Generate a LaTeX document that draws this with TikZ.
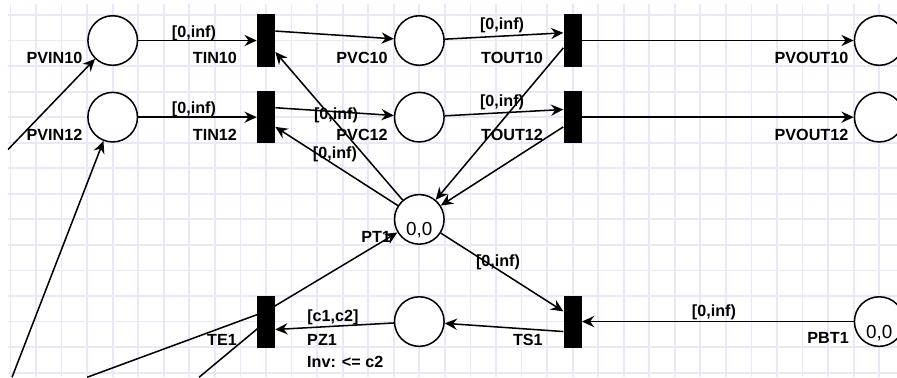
\documentclass[tikz,border=0pt]{standalone}
\usepackage{fontspec}
\setmainfont{Liberation Sans}
\usepackage{xcolor}
\usetikzlibrary{arrows.meta}
\definecolor{gridc}{HTML}{E8E8F8}
\tikzset{
  place/.style={draw,circle,line width=0.85pt,minimum size=0.97cm,inner sep=0pt,fill=white},
  trans/.style={fill=black,minimum width=3.5mm,minimum height=10.2mm,inner sep=0pt},
  lbl/.style={font=\bfseries\fontsize{9}{10}\selectfont,inner sep=0pt},
  tok/.style={font=\fontsize{10.5}{12}\selectfont,inner sep=0pt},
  flow/.style={line width=0.85pt,-{Stealth[length=2.4mm,width=2.2mm,inset=0.8mm]}},
  wire/.style={line width=0.85pt}
}

\begin{document}
\begin{tikzpicture}[x=0.5cm,y=-0.5cm]
\useasboundingbox (-0.411,-0.586) rectangle (34.697,14.18);
\begin{scope}
\clip (-0.1,-0.43) rectangle (34.697,14.18);
\foreach \i in {0,...,34} \draw[gridc,line width=1pt] (\i,-0.43) -- (\i,14.18);
\foreach \j in {0,...,14} \draw[gridc,line width=1pt] (-0.1,\j) -- (34.697,\j);

\node[place] (PVIN10) at (4,1) {}; \node[place] (PVIN12) at (4,4) {};
\node[trans] (TIN10) at (10,1) {}; \node[trans] (TIN12) at (10,4) {};
\node[place] (PVC10) at (16,1) {}; \node[place] (PVC12) at (16,4) {};
\node[trans] (TOUT10) at (22,1) {}; \node[trans] (TOUT12) at (22,4) {};
\node[place] (PVOUT10) at (34,1) {}; \node[place] (PVOUT12) at (34,4) {};
\node[place] (PT1) at (16,8) {};
\node[trans] (TE1) at (10,12) {}; \node[place] (PZ1) at (16,12) {};
\node[trans] (TS1) at (22,12) {}; \node[place] (PBT1) at (34,12) {};
\coordinate (inA) at (-0.1,5.27); \coordinate (inB) at (0.06,14.18);
\coordinate (outC) at (3.0,14.18); \coordinate (outE) at (7.38,14.18);

\draw[flow] (PVIN10) -- (TIN10.west);
\draw[flow] (PVIN12) -- (TIN12.west);
\draw[flow] ([yshift=1.85mm]TIN10.east) -- (PVC10);
\draw[flow] ([yshift=1.85mm]TIN12.east) -- (PVC12);
\draw[flow] (PVC10) -- ([yshift=1.5mm]TOUT10.west);
\draw[flow] (PVC12) -- ([yshift=1.5mm]TOUT12.west);
\draw[flow] (TOUT10.east) -- (PVOUT10);
\draw[flow] (TOUT12.east) -- (PVOUT12);
\draw[flow] ([yshift=-1.45mm]TOUT10.west) -- (PT1);
\draw[flow] ([yshift=-1.9mm]TOUT12.west) -- (PT1);
\draw[flow] (PT1) -- ([yshift=-2.25mm]TIN10.east);
\draw[flow] (PT1) -- ([yshift=-1.9mm]TIN12.east);
\draw[flow] (PT1) -- ([yshift=2mm]TS1.west);
\draw[flow] ([yshift=-1.95mm]TS1.west) -- (PZ1);
\draw[flow] (PZ1) -- ([yshift=-1.55mm]TE1.east);
\draw[flow] (PBT1) -- (TS1.east);
\draw[flow] ([yshift=2mm]TE1.center) -- (PT1);
\draw[wire] ([yshift=2mm]TE1.center) -- (outC);
\draw[wire] (TE1.center) -- (outE);
\draw[flow] (inA) -- (PVIN10);
\draw[flow] (inB) -- (PVIN12);

\node[lbl] (lPVIN10) at (1.72,1.68) {PVIN10}; \node[lbl] (lPVIN12) at (1.72,4.69) {PVIN12};
\node[lbl] (lTIN10) at (8.0,1.68) {TIN10}; \node[lbl] (lTIN12) at (8.0,4.69) {TIN12};
\node[lbl] (lPVC10) at (13.76,1.68) {PVC10}; \node[lbl] (lPVC12) at (13.76,4.69) {PVC12};
\node[lbl] (lTOUT10) at (19.63,1.68) {TOUT10}; \node[lbl] (lTOUT12) at (19.63,4.69) {TOUT12};
\node[lbl] (lPVOUT10) at (31.35,1.68) {PVOUT10}; \node[lbl] (lPVOUT12) at (31.35,4.69) {PVOUT12};
\node[lbl] (lPT1) at (14.31,8.67) {PT1};
\node[lbl,anchor=west] (lPZ1) at (11.6,12.70) {PZ1};
\node[lbl,anchor=west] (lInv) at (11.6,13.59) {Inv: <= c2};
\node[lbl] (lTS1) at (20.25,12.70) {TS1};
\node[lbl] (lTE1) at (8.28,12.70) {TE1};
\node[lbl] (lPBT1) at (32.0,12.66) {PBT1};
\node[tok] (tPT1) at (16,8.43) {0,0}; \node[tok] (tPBT1) at (34,12.45) {0,0};

\node[lbl] (w1) at (7.18,0.70) {[0,inf)}; \node[lbl] (w2) at (7.18,3.71) {[0,inf)};
\node[lbl] (w3) at (12.74,3.91) {[0,inf)}; \node[lbl] (w4) at (12.70,5.47) {[0,inf)};
\node[lbl] (w5) at (19.24,0.39) {[0,inf)}; \node[lbl] (w6) at (19.24,3.40) {[0,inf)};
\node[lbl] (w7) at (19.08,9.69) {[0,inf)}; \node[lbl] (w8) at (12.62,11.84) {[c1,c2]};
\node[lbl] (w9) at (27.53,11.64) {[0,inf)};
\end{scope}
\end{tikzpicture}
\end{document}
